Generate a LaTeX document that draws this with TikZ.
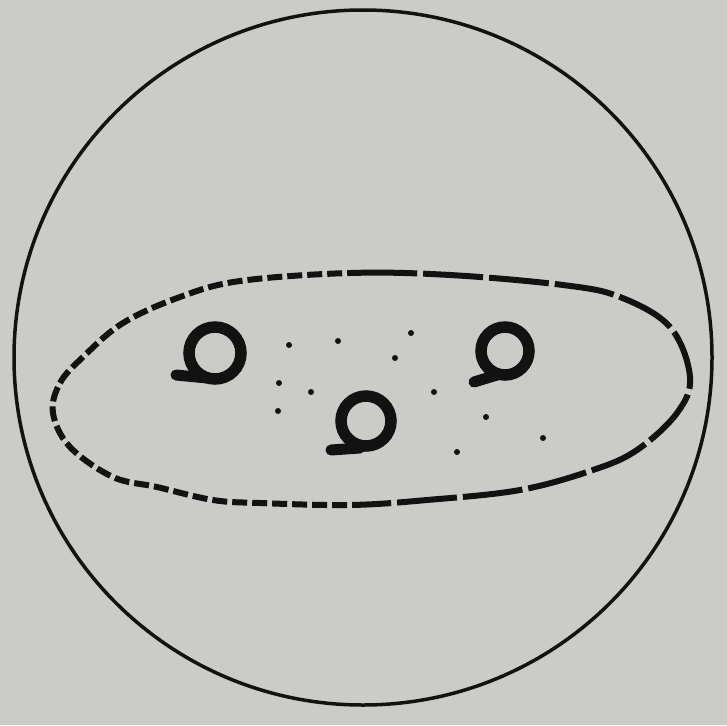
\documentclass[tikz,border=0pt]{standalone}
\usetikzlibrary{calc}
\definecolor{paper}{RGB}{203,204,199}
\definecolor{ink}{RGB}{18,18,18}
\begin{document}
\begin{tikzpicture}[x=1pt,y=-1pt,
  outline/.style={draw=ink,line width=3.5pt},
  cellwall/.style={draw=ink,line width=6pt},
  loopring/.style={draw=ink,line width=11.5pt},
  looptail/.style={draw=ink,line width=11pt,line cap=round},
  speck/.style={fill=ink,circle,inner sep=0pt,minimum size=6pt}]
\fill[paper] (0,0) rectangle (727,725);
\useasboundingbox (0,0) rectangle (727,725);
% outer circle
\draw[outline] (363,357.5) ellipse [x radius=349, y radius=347.5];
% dashed oval
\def\ovalpath{plot[smooth cycle,tension=0.6] coordinates {
 (53,413) (60,383) (83,357) (123,323) (180,297) (240,281) (350,273)
 (450,275) (563,285) (620,297) (670,327) (690,377) (677,413) (637,450)
 (593,470) (520,490) (427,500) (350,505) (260,503) (213,500) (157,487)
 (113,477) (70,447)}}
\begin{scope}
  \clip (0,0) rectangle (360,725);
  \draw[cellwall,dash pattern=on 15pt off 5pt] \ovalpath;
\end{scope}
\begin{scope}
  \clip (360,0) rectangle (727,725);
  \draw[cellwall,dash pattern=on 60pt off 6pt] \ovalpath;
\end{scope}
% three loops
\coordinate (l1) at (215,353);
\coordinate (l2) at (505,351);
\coordinate (l3) at (366,421);
\draw[loopring] (l1) circle [radius=26];
\draw[looptail] ($(l1)+(-39,22)$) -- ($(l1)+(-8,25)$);
\draw[loopring] (l2) circle [radius=24];
\draw[looptail] ($(l2)+(-31,31)$) -- ($(l2)+(-8,24)$);
\draw[loopring] (l3) circle [radius=25];
\draw[looptail] ($(l3)+(-35,29)$) -- ($(l3)+(-6,27)$);
% specks
\foreach \p [count=\i] in {(289,345),(338,341),(411,333),(395,358),(279,383),(311,392),(278,411),(434,392),(486,417),(543,438),(457,452)}
  \node[speck] (s\i) at \p {};
\end{tikzpicture}
\end{document}
